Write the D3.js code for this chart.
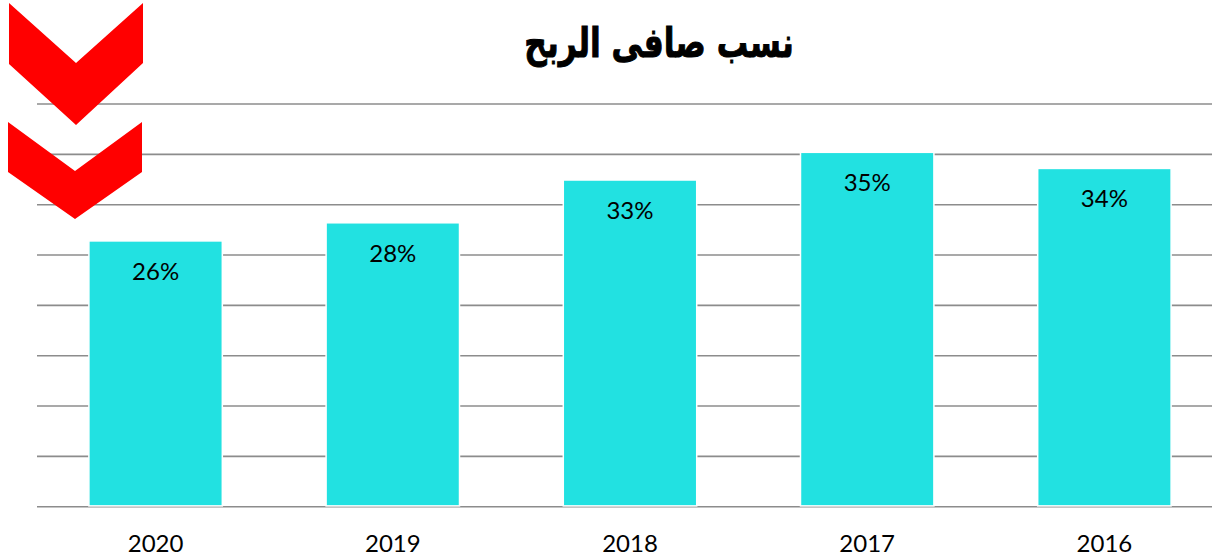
<!DOCTYPE html>
<html>
<head>
<meta charset="utf-8">
<script src="https://cdn.jsdelivr.net/npm/d3@7"></script>
<style>
  html, body { margin: 0; padding: 0; background: #fff; overflow: hidden; }
  svg { display: block; }
</style>
</head>
<body>
<div id="chart-area"></div>
<script>
const years = ["2020", "2019", "2018", "2017", "2016"]
const margins = [0.264, 0.282, 0.3245, 0.352, 0.336]
const valueLabels = ["26%", "28%", "33%", "35%", "34%"]
const gridTicks = [0, 0.05, 0.10, 0.15, 0.20, 0.25, 0.30, 0.35, 0.40]
const title = "نسب صافى الربح"

const WIDTH = 1212
const HEIGHT = 556

const svg = d3.select("#chart-area").append("svg")
  .attr("width", WIDTH)
  .attr("height", HEIGHT)

const x = d3.scaleBand()
  .domain(years)
  .range([37, 1223])
  .paddingInner(0.4375)
  .paddingOuter(0.21875)

const y = d3.scaleLinear()
  .domain([0, 0.4])
  .range([506.7, 104])

// gridlines
svg.append("g")
  .selectAll("line")
  .data(gridTicks)
  .enter().append("line")
  .attr("x1", 37)
  .attr("x2", WIDTH)
  .attr("y1", d => y(d))
  .attr("y2", d => y(d))
  .attr("stroke", "#8c8c8c")
  .attr("stroke-width", 1.6)

// bars
svg.append("g")
  .selectAll("rect")
  .data(margins)
  .enter().append("rect")
  .attr("x", (d, i) => x(years[i]))
  .attr("y", d => y(d))
  .attr("width", x.bandwidth())
  .attr("height", d => y(0) - y(d) - 0.8)
  .attr("fill", "#22e1e1")
  .attr("stroke", "#fff")
  .attr("stroke-width", 1.5)

// value labels
svg.append("g")
  .selectAll("text")
  .data(margins)
  .enter().append("text")
  .attr("x", (d, i) => x(years[i]) + x.bandwidth() / 2)
  .attr("y", d => y(d) + 39)
  .attr("text-anchor", "middle")
  .attr("font-family", "Lato, 'Open Sans', sans-serif")
  .attr("font-size", "24px")
  .attr("fill", "#000")
  .text((d, i) => valueLabels[i])

// x axis labels
const xAxis = d3.axisBottom(x).tickSize(0).tickPadding(28)
const xg = svg.append("g")
  .attr("transform", `translate(0, ${y(0)})`)
  .call(xAxis)
xg.select(".domain").remove()
xg.selectAll("text")
  .attr("font-family", "Lato, 'Open Sans', sans-serif")
  .attr("font-size", "24px")
  .attr("fill", "#000")

// title
svg.append("text")
  .attr("transform", "translate(659, 57) scale(0.95, 1.25)")
  .attr("text-anchor", "middle")
  .attr("direction", "rtl")
  .attr("font-family", "'DejaVu Sans', sans-serif")
  .attr("font-weight", "bold")
  .attr("font-size", "33px")
  .attr("fill", "#000")
  .attr("stroke", "#000")
  .attr("stroke-width", 0.8)
  .text(title)

// red chevrons
const chevrons = [
  [[9, 3], [76, 63], [143, 3], [143, 63], [76, 125], [9, 64]],
  [[8, 122], [75, 171], [142, 122], [142, 172], [75, 219], [8, 172]]
]
svg.append("g")
  .selectAll("polygon")
  .data(chevrons)
  .enter().append("polygon")
  .attr("points", d => d.map(p => p.join(",")).join(" "))
  .attr("fill", "#ff0000")
</script>
</body>
</html>
